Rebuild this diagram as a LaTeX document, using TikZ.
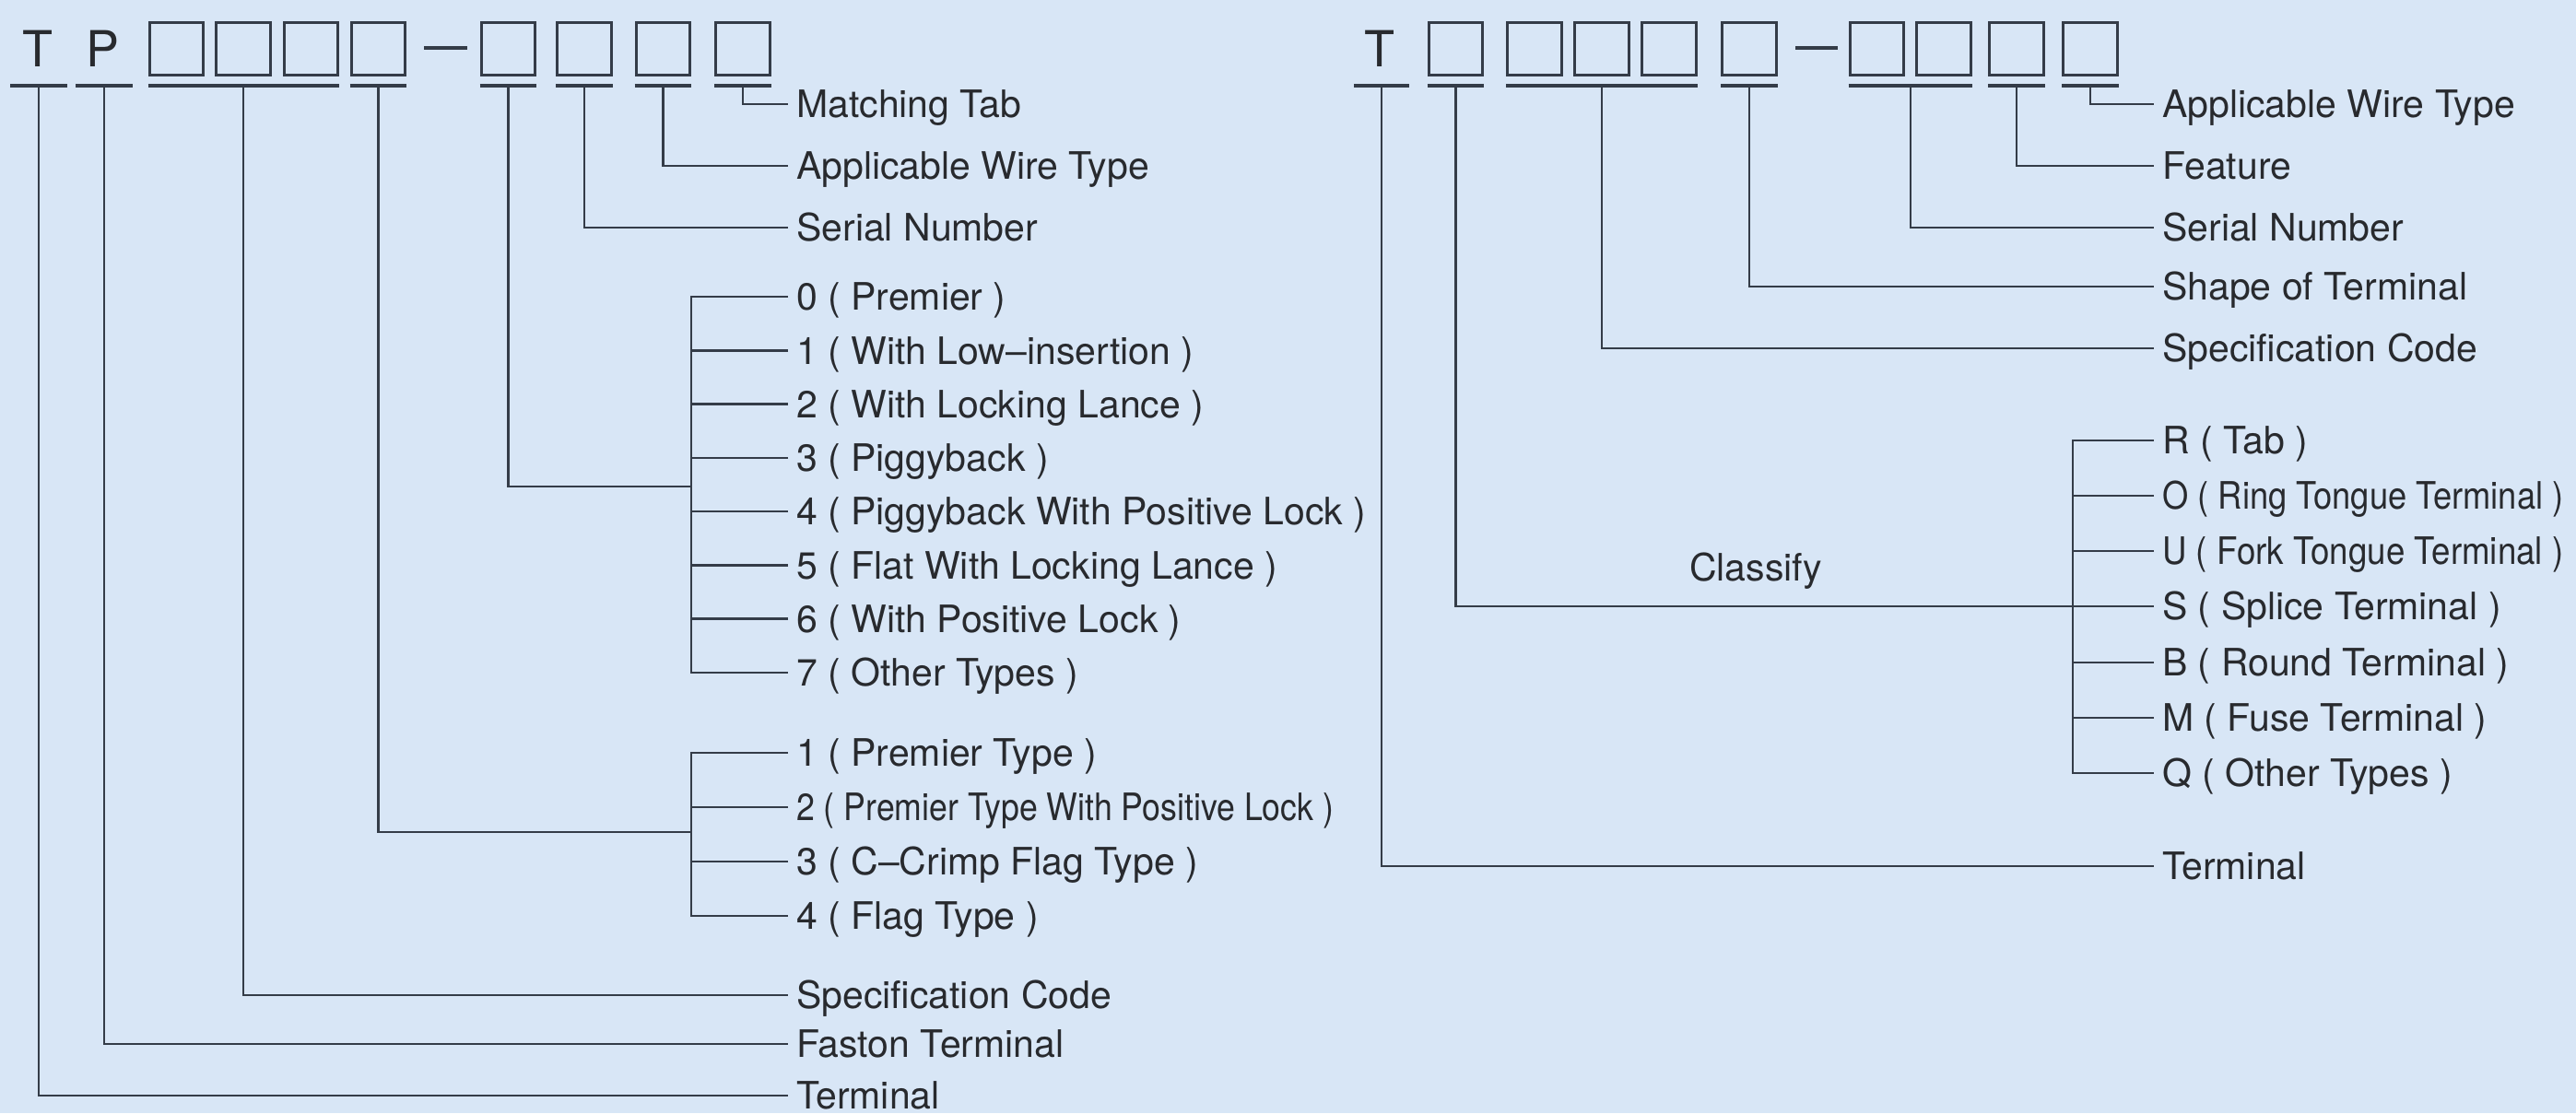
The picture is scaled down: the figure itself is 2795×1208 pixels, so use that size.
\documentclass[tikz,border=0pt]{standalone}
\usepackage{fontspec}
\setmainfont{TeX Gyre Heros}
\usepackage{graphicx}
\definecolor{bg}{RGB}{216,230,246}
\definecolor{ink}{RGB}{52,60,72}
\definecolor{txt}{RGB}{40,42,46}
\begin{document}
\begin{tikzpicture}[x=1pt,y=-1pt,
  cbox/.style={draw=ink,line width=3.2pt,minimum width=58.5pt,minimum height=57pt,inner sep=0pt},
  uline/.style={draw=ink,line width=3.2pt},
  conn/.style={draw=ink,line width=2.6pt},
  lab/.style={anchor=west,inner xsep=9pt,inner ysep=0pt,text height=29.4pt,text depth=0pt,text=txt,font=\fontsize{41}{48}\selectfont},
  big/.style={anchor=base,inner sep=0pt,text=txt,font=\fontsize{54}{60}\selectfont},
  dashl/.style={draw=ink,line width=3.4pt}]
\fill[bg] (0,0) rectangle (2795,1208);
\useasboundingbox (0,0) rectangle (2795,1208);
\coordinate (ul) at (0,93);
% ---------------- left header ----------------
\node[big] (tL) at (41,72) {T};
\node[big] (pL) at (112,72) {P};
\foreach \n/\x in {b1/191.5,b2/264,b3/337.5,b4/410.5,b5/551.5,b6/634,b7/719.5,b8/806}
  \node[cbox] (\n) at (\x,53) {};
\draw[dashl] (460,52) -- (507,52);
\draw[uline] (11,93) -- (73,93);
\draw[uline] (82,93) -- (144,93);
\draw[uline] (b1.west |- ul) -- (b3.east |- ul);
\foreach \n in {b4,b5,b6,b7,b8}
  \draw[uline] (\n.west |- ul) -- (\n.east |- ul);
\coordinate (uT) at (42,93);
\coordinate (uP) at (113,93);
% left labels
\node[lab] (lMT) at (855,113) {Matching Tab};
\node[lab] (lAW) at (855,180) {Applicable Wire Type};
\node[lab] (lSN) at (855,247) {Serial Number};
\node[lab] (a0) at (855,322) {0 ( Premier )};
\node[lab] (a1) at (855,380.3) {1 ( With Low–insertion )};
\node[lab] (a2) at (855,438.6) {2 ( With Locking Lance )};
\node[lab] (a3) at (855,496.9) {3 ( Piggyback )};
\node[lab] (a4) at (855,555.1) {4 ( Piggyback With Positive Lock )};
\node[lab] (a5) at (855,613.4) {5 ( Flat With Locking Lance )};
\node[lab] (a6) at (855,671.7) {6 ( With Positive Lock )};
\node[lab] (a7) at (855,730) {7 ( Other Types )};
\node[lab] (c1) at (855,817) {1 ( Premier Type )};
\node[lab] (c2) at (855,876) {\scalebox{0.87}[1]{2 ( Premier Type With Positive Lock )}};
\node[lab] (c3) at (855,935) {3 ( C–Crimp Flag Type )};
\node[lab] (c4) at (855,994) {4 ( Flag Type )};
\node[lab] (lSC) at (855,1080) {Specification Code};
\node[lab] (lFT) at (855,1133) {Faston Terminal};
\node[lab] (lTE) at (855,1189) {Terminal};
% left connectors
\draw[conn] (b8.center |- ul) |- (lMT.west);
\draw[conn] (b7.center |- ul) |- (lAW.west);
\draw[conn] (b6.center |- ul) |- (lSN.west);
\coordinate (jA) at (750,528);
\draw[conn] (b5.center |- ul) |- (jA);
\draw[conn] (a0.west) -| (jA) |- (a7.west);
\foreach \n in {a1,a2,a3,a4,a5,a6}
  \draw[conn] (\n.west) -- (\n.west -| jA);
\coordinate (jB) at (750,903);
\draw[conn] (b4.center |- ul) |- (jB);
\draw[conn] (c1.west) -| (jB) |- (c4.west);
\foreach \n in {c2,c3}
  \draw[conn] (\n.west) -- (\n.west -| jB);
\draw[conn] (b2.center |- ul) |- (lSC.west);
\draw[conn] (uP) |- (lFT.west);
\draw[conn] (uT) |- (lTE.west);
% ---------------- right header ----------------
\node[big] (tR) at (1497,72) {T};
\foreach \n/\x in {r1/1579.5,r2/1665,r3/1738,r4/1811,r5/1898,r6/2036.5,r7/2109,r8/2188,r9/2268}
  \node[cbox] (\n) at (\x,53) {};
\draw[dashl] (1948,52) -- (1994,52);
\draw[uline] (1469,93) -- (1529,93);
\draw[uline] (r1.west |- ul) -- (r1.east |- ul);
\draw[uline] (r2.west |- ul) -- (r4.east |- ul);
\draw[uline] (r5.west |- ul) -- (r5.east |- ul);
\draw[uline] (r6.west |- ul) -- (r7.east |- ul);
\draw[uline] (r8.west |- ul) -- (r8.east |- ul);
\draw[uline] (r9.west |- ul) -- (r9.east |- ul);
\coordinate (uRT) at (1499,93);
\coordinate (u67) at (2073,93);
% right labels
\node[lab] (rAW) at (2337,113) {Applicable Wire Type};
\node[lab] (rFE) at (2337,180) {Feature};
\node[lab] (rSN) at (2337,247) {Serial Number};
\node[lab] (rSH) at (2337,311) {Shape of Terminal};
\node[lab] (rSC) at (2337,378) {Specification Code};
\node[lab] (sR) at (2337,478) {R ( Tab )};
\node[lab] (sO) at (2337,538) {\scalebox{0.886}[1]{O ( Ring Tongue Terminal )}};
\node[lab] (sU) at (2337,598) {\scalebox{0.895}[1]{U ( Fork Tongue Terminal )}};
\node[lab] (sS) at (2337,658) {S ( Splice Terminal )};
\node[lab] (sB) at (2337,719) {B ( Round Terminal )};
\node[lab] (sM) at (2337,779) {M ( Fuse Terminal )};
\node[lab] (sQ) at (2337,839) {Q ( Other Types )};
\node[lab] (rTE) at (2337,940) {Terminal};
\node[lab,anchor=base,inner xsep=0pt] (cls) at (1905,630) {Classify};
% right connectors
\draw[conn] (r9.center |- ul) |- (rAW.west);
\draw[conn] (r8.center |- ul) |- (rFE.west);
\draw[conn] (u67) |- (rSN.west);
\draw[conn] (r5.center |- ul) |- (rSH.west);
\draw[conn] (r3.center |- ul) |- (rSC.west);
\coordinate (jR) at (2249,658);
\draw[conn] (r1.center |- ul) |- (sS.west);
\draw[conn] (sR.west) -| (jR) |- (sQ.west);
\foreach \n in {sO,sU,sB,sM}
  \draw[conn] (\n.west) -- (\n.west -| jR);
\draw[conn] (uRT) |- (rTE.west);
\end{tikzpicture}
\end{document}
